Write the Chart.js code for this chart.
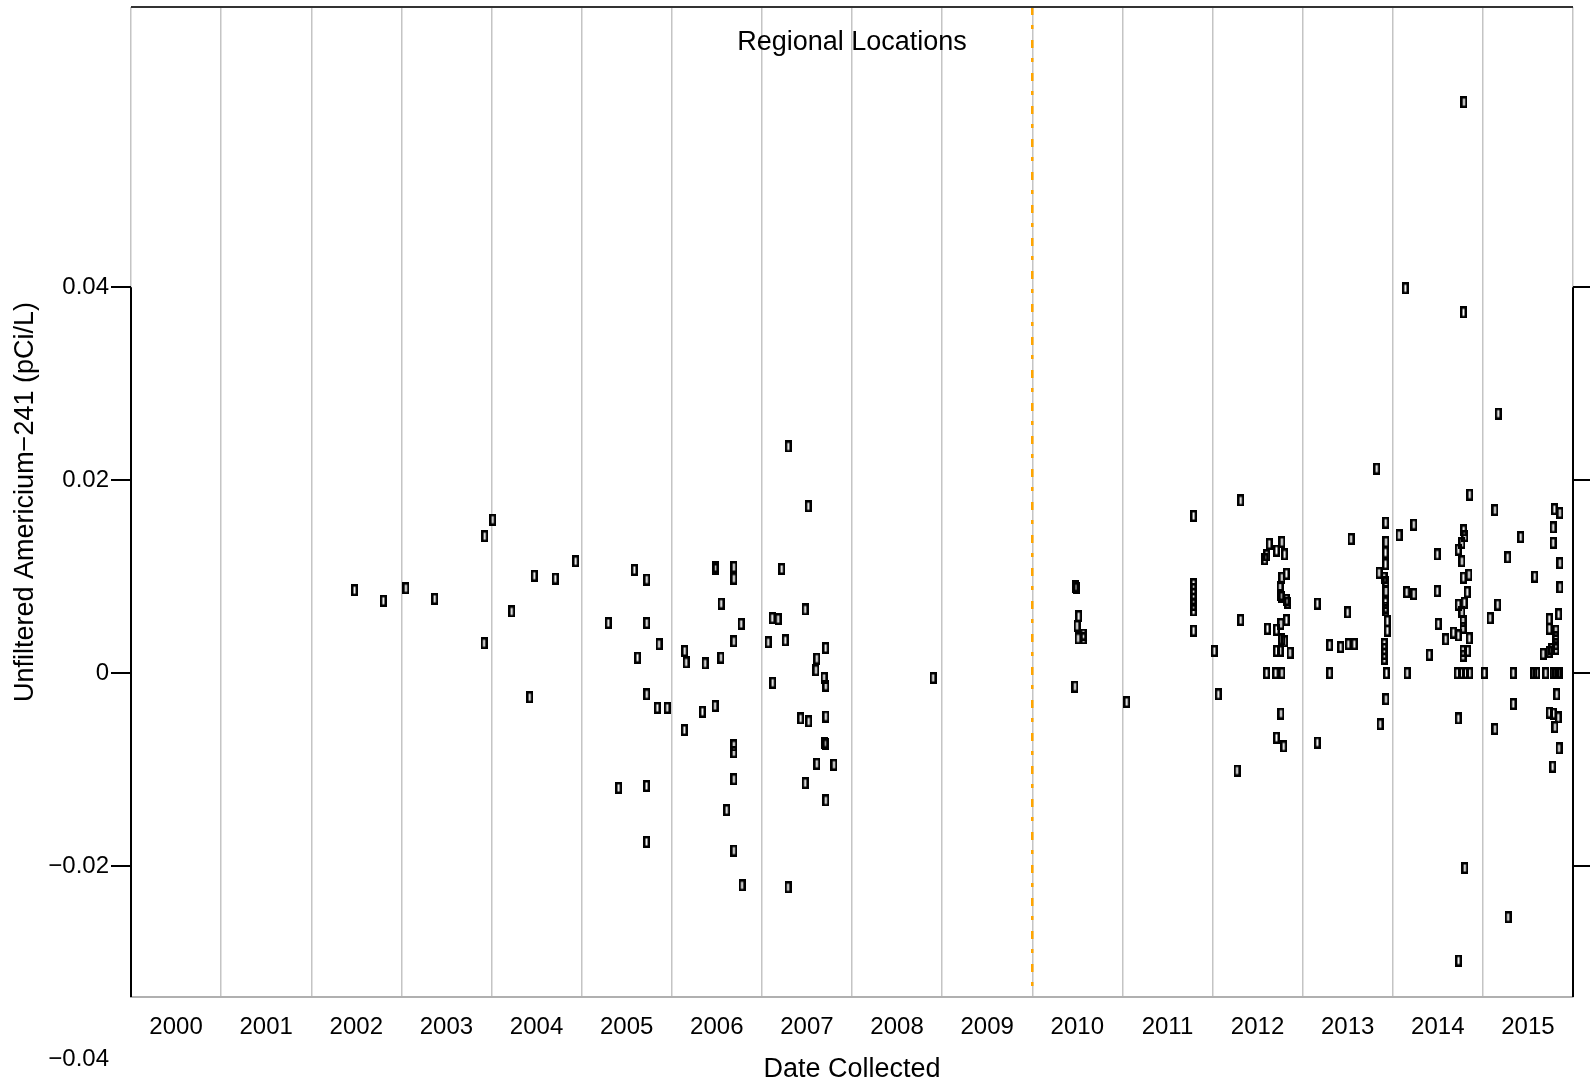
<!DOCTYPE html>
<html>
<head>
<meta charset="utf-8">
<title>Unfiltered Americium-241 - Regional Locations</title>
<script src="https://cdn.jsdelivr.net/npm/chart.js@4.4.1/dist/chart.umd.min.js"></script>
<style>
	html, body { margin: 0; padding: 0; background: #fff; }
	#wrap { width: 1590px; height: 1089px; }
</style>
</head>
<body>
<div id="wrap"><canvas id="amChart" width="1590" height="1089"></canvas></div>
<script>
// Sample dates as decimal years, one line per year of sampling
const sampleDates = [
	2002.48, 2002.80, 2003.05, 2003.37, 2003.925, 2004.013, 2003.917,
	2004.224, 2004.475, 2004.708, 2004.934, 2004.424,
	2005.296, 2005.585, 2005.723, 2005.723, 2005.859, 2005.62, 2005.723, 2005.84, 2005.95, 2005.41, 2005.72, 2005.72,
	2006.483, 2006.49, 2006.69, 2006.69, 2006.548, 2006.77, 2006.69, 2006.144, 2006.16, 2006.37,
	2006.546, 2006.34, 2006.48, 2006.14, 2006.69, 2006.69, 2006.69, 2006.61, 2006.69, 2006.78,
	2007.293, 2007.515, 2007.22, 2007.115, 2007.18, 2007.48, 2007.07, 2007.26, 2007.708, 2007.61, 2007.60, 2007.69,
	2007.71, 2007.12, 2007.43, 2007.52, 2007.71, 2007.70, 2007.71, 2007.61, 2007.80, 2007.48, 2007.71, 2007.29,
	2008.90,
	2010.485, 2010.49, 2010.48, 2010.515, 2010.497, 2010.508, 2010.567, 2010.57, 2010.474, 2011.048,
	2011.79, 2011.79, 2011.79, 2011.79, 2011.79, 2011.79, 2011.79, 2011.79,
	2012.02, 2012.064, 2012.313, 2012.313, 2012.272, 2012.63, 2012.60, 2012.58, 2012.71, 2012.77, 2012.80,
	2012.82, 2012.77, 2012.75, 2012.76, 2012.82, 2012.834, 2012.77, 2012.61, 2012.71, 2012.76, 2012.82,
	2012.77, 2012.80, 2012.71, 2012.75, 2012.86, 2012.60, 2012.70, 2012.77, 2012.76, 2012.71, 2012.79,
	2013.163, 2013.163, 2013.30, 2013.422, 2013.506, 2013.573, 2013.30, 2013.50, 2013.537, 2013.822,
	2013.848, 2013.86, 2013.922, 2013.925, 2013.92, 2013.92, 2013.903, 2013.925, 2013.925, 2013.92,
	2013.92, 2013.925, 2013.94, 2013.94, 2013.906, 2013.906, 2013.906, 2013.906, 2013.93, 2013.925,
	2014.07, 2014.14, 2014.16, 2014.155, 2014.234, 2014.234, 2014.405, 2014.494, 2014.494, 2014.505,
	2014.588, 2014.672, 2014.727, 2014.849, 2014.727, 2014.794, 2014.768, 2014.78, 2014.78, 2014.78,
	2014.78, 2014.831, 2014.727, 2014.768, 2014.787, 2014.80, 2014.768, 2014.783, 2014.846, 2014.827,
	2014.854, 2014.716, 2014.76, 2014.808, 2014.854, 2014.727, 2014.79, 2014.785, 2014.80, 2014.73,
	2015.016, 2015.134, 2015.165, 2015.08, 2015.134, 2015.17, 2015.276, 2015.28, 2015.337, 2015.337,
	2015.42, 2015.575, 2015.567, 2015.597, 2015.697, 2015.781, 2015.811, 2015.836, 2015.855,
	2015.793, 2015.855, 2015.78, 2015.78, 2015.855, 2015.855, 2015.737, 2015.737, 2015.841, 2015.81,
	2015.81, 2015.81, 2015.81, 2015.762, 2015.737, 2015.669, 2015.82, 2015.737, 2015.781, 2015.836,
	2015.80, 2015.845, 2015.774
];

// Unfiltered Am-241 results (pCi/L), same order as sampleDates
const americiumValues = [
	0.0086, 0.0075, 0.0088, 0.0077, 0.0142, 0.0159, 0.0031,
	0.0064, 0.0101, 0.0098, 0.0116, -0.0025,
	0.0052, 0.0107, 0.0097, 0.0052, 0.0030, 0.0016, -0.0022, -0.0036, -0.0036, -0.0119, -0.0117, -0.0175,
	0.0110, 0.0108, 0.0110, 0.0098, 0.0072, 0.0051, 0.0033, 0.0023, 0.0011, 0.0010,
	0.0016, -0.0040, -0.0034, -0.0059, -0.0075, -0.0082, -0.0110, -0.0142, -0.0184, -0.0220,
	0.0235, 0.0173, 0.0108, 0.0057, 0.0056, 0.0066, 0.0032, 0.0034, 0.0026, 0.0015, 0.0003, -0.0005,
	-0.0013, -0.0010, -0.0047, -0.0050, -0.0045, -0.0072, -0.0074, -0.0094, -0.0095, -0.0114, -0.0132, -0.0222,
	-0.0005,
	0.0089, 0.0088, 0.0090, 0.0059, 0.0049, 0.0036, 0.0040, 0.0036, -0.0014, -0.0030,
	0.0163, 0.0092, 0.0087, 0.0082, 0.0077, 0.0071, 0.0065, 0.0044,
	0.0023, -0.0022, 0.0179, 0.0055, -0.0101, 0.0134, 0.0122, 0.0118, 0.0127, 0.0136, 0.0123,
	0.0103, 0.0099, 0.0089, 0.0081, 0.0076, 0.0073, 0.0079, 0.0046, 0.0045, 0.0051, 0.0055,
	0.0035, 0.0033, 0.0023, 0.0023, 0.0021, 0, 0, 0, -0.0042, -0.0067, -0.0076,
	0.0072, -0.0072, 0.0029, 0.0027, 0.0030, 0.0030, 0, 0.0063, 0.0139, 0.0212,
	0.0104, -0.0053, 0.0156, 0.0136, 0.0125, 0.0113, 0.0099, 0.0094, 0.0085, 0.0073,
	0.0068, 0.0065, 0.0054, 0.0044, 0.0030, 0.0025, 0.0020, 0.0015, 0, -0.0027,
	0.0143, 0.0399, 0, 0.0084, 0.0082, 0.0154, 0.0019, 0.0123, 0.0085, 0.0051,
	0.0035, 0.0042, 0.0039, 0.0036, 0.0071, 0.0073, 0.0063, 0.0054, 0.0047, 0.0023,
	0.0018, 0.0023, 0.0128, 0.0135, 0.0148, 0.0142, 0.0116, 0.0099, 0.0102, 0.0084,
	0.0185, 0, 0, 0, 0, -0.0047, 0.0592, 0.0374, -0.0202, -0.0298,
	0, 0.0169, 0.0071, 0.0057, -0.0058, 0.0269, 0.0120, -0.0253, 0, -0.0032,
	0.0141, 0.0100, 0, 0, 0, 0, 0, 0, 0,
	0.0170, 0.0166, 0.0151, 0.0135, 0.0114, 0.0089, 0.0056, 0.0046, 0.0061, 0.0044,
	0.0037, 0.0030, 0.0025, 0.0025, 0.0022, 0.0020, -0.0022, -0.0041, -0.0042, -0.0046,
	-0.0056, -0.0078, -0.0097
];

const yearLabels = [2000, 2001, 2002, 2003, 2004, 2005, 2006, 2007, 2008, 2009, 2010, 2011, 2012, 2013, 2014, 2015];
const yTickValues = [0.04, 0.02, 0, -0.02];
const yExtraTick = -0.04; // printed below the frame in the original
const yRange = [-0.03358, 0.06906];
const xRange = [2000, 2016];
const changeYear = 2010; // orange reference line

const FONT = "'Liberation Sans', Arial, Helvetica, sans-serif";
Chart.defaults.font.family = FONT;
Chart.defaults.color = "#000";

function formatValue(v) {
	if (Math.abs(v) < 1e-9) return "0";
	const s = Math.abs(v).toFixed(2);
	return v < 0 ? "\u2212" + s : s;
}

// open tall rectangle marker
function makeMarker() {
	const c = document.createElement("canvas");
	c.width = 7;
	c.height = 12;
	const g = c.getContext("2d");
	g.strokeStyle = "#000";
	g.lineWidth = 2.5;
	g.strokeRect(1.25, 1.25, 4.5, 9.5);
	return c;
}

const points = sampleDates.map((d, i) => ({ x: d, y: americiumValues[i] }));

// vertical axes reserve room for half a label at the ends; drop that
function noEndPadding(scale) {
	scale.paddingTop = 0;
	scale.paddingBottom = 0;
}

const framePlugin = {
	id: "frameAndNotes",
	beforeDatasetsDraw(chart) {
		const { ctx, chartArea } = chart;
		const xs = chart.scales.x;
		const ys = chart.scales.y;
		const yTop = ys.getPixelForValue(yTickValues[0]);
		ctx.save();

		// orange dash-dot line
		const xo = xs.getPixelForValue(changeYear);
		ctx.strokeStyle = "#ffa500";
		ctx.lineWidth = 2.5;
		ctx.setLineDash([8, 10, 4, 11]);
		ctx.beginPath();
		ctx.moveTo(xo, chartArea.top);
		ctx.lineTo(xo, chartArea.bottom);
		ctx.stroke();
		ctx.setLineDash([]);

		// top border
		ctx.strokeStyle = "#333";
		ctx.lineWidth = 2;
		ctx.beginPath();
		ctx.moveTo(chartArea.left, chartArea.top);
		ctx.lineTo(chartArea.right, chartArea.top);
		ctx.stroke();

		// black axis lines only over the ticked span
		ctx.strokeStyle = "#000";
		ctx.beginPath();
		ctx.moveTo(chartArea.left, yTop);
		ctx.lineTo(chartArea.left, chartArea.bottom);
		ctx.moveTo(chartArea.right, yTop);
		ctx.lineTo(chartArea.right, chartArea.bottom);
		ctx.stroke();

		// title inside the frame
		ctx.fillStyle = "#000";
		ctx.font = "27px " + FONT;
		ctx.textAlign = "center";
		ctx.textBaseline = "middle";
		ctx.fillText("Regional Locations", (chartArea.left + chartArea.right) / 2, chartArea.top + 36);

		// lowest tick label sits below the frame
		ctx.font = "24px " + FONT;
		ctx.textAlign = "right";
		ctx.fillText(formatValue(yExtraTick), ys.right - 22, ys.getPixelForValue(yExtraTick));
		ctx.restore();
	},
};

const ctx = document.getElementById("amChart").getContext("2d");
const amChart = new Chart(ctx, {
	type: "scatter",
	data: {
		datasets: [
			{
				label: "Unfiltered Americium-241",
				data: points,
				pointStyle: makeMarker(),
				pointRadius: 6,
				pointHoverRadius: 6,
			},
		],
	},
	options: {
		responsive: false,
		animation: false,
		layout: { padding: { top: 5, left: 0, right: 0, bottom: 0 } },
		plugins: {
			legend: { display: false },
			tooltip: { enabled: false },
		},
		scales: {
			x: {
				type: "linear",
				position: "bottom",
				weight: 0,
				min: xRange[0],
				max: xRange[1],
				afterBuildTicks: (scale) => {
					const t = [];
					for (let v = xRange[0]; v <= xRange[1]; v++) t.push({ value: v });
					scale.ticks = t;
				},
				ticks: { display: false },
				grid: { color: "#c4c4c4", lineWidth: 1.5, drawTicks: false },
				border: { display: true, color: "#b0b0b0", width: 2 },
				afterFit: (scale) => {
					scale.height = 0;
				},
			},
			xYears: {
				type: "linear",
				position: "bottom",
				weight: 1,
				min: xRange[0],
				max: xRange[1],
				afterBuildTicks: (scale) => {
					scale.ticks = yearLabels.map((y) => ({ value: y + 0.5 }));
				},
				ticks: {
					font: { size: 24 },
					color: "#000",
					padding: 16,
					maxRotation: 0,
					autoSkip: false,
					callback: (v) => String(Math.floor(v)),
				},
				grid: { display: false, drawTicks: false },
				border: { display: false },
				title: {
					display: true,
					text: "Date Collected",
					font: { size: 27 },
					color: "#000",
					padding: { top: 4, bottom: 3 },
				},
				afterFit: (scale) => {
					scale.height = 92;
				},
			},
			y: {
				type: "linear",
				position: "left",
				min: yRange[0],
				max: yRange[1],
				afterBuildTicks: (scale) => {
					scale.ticks = yTickValues.map((v) => ({ value: v }));
				},
				ticks: {
					font: { size: 24 },
					color: "#000",
					padding: 2,
					callback: (v) => formatValue(v),
				},
				grid: { drawOnChartArea: false, drawTicks: true, tickLength: 20, color: "#000", lineWidth: 2 },
				border: { display: false },
				title: {
					display: true,
					text: "Unfiltered Americium\u2212241 (pCi/L)",
					font: { size: 27 },
					color: "#000",
					padding: { top: 9, bottom: 0 },
				},
				afterFit: (scale) => {
					scale.width = 131;
					noEndPadding(scale);
				},
			},
			y2: {
				type: "linear",
				position: "right",
				min: yRange[0],
				max: yRange[1],
				afterBuildTicks: (scale) => {
					scale.ticks = yTickValues.map((v) => ({ value: v }));
				},
				ticks: { display: false },
				grid: { drawOnChartArea: false, drawTicks: true, tickLength: 17, color: "#000", lineWidth: 2 },
				border: { display: false },
				afterFit: (scale) => {
					scale.width = 17;
					noEndPadding(scale);
				},
			},
		},
	},
	plugins: [framePlugin],
});
</script>
</body>
</html>
